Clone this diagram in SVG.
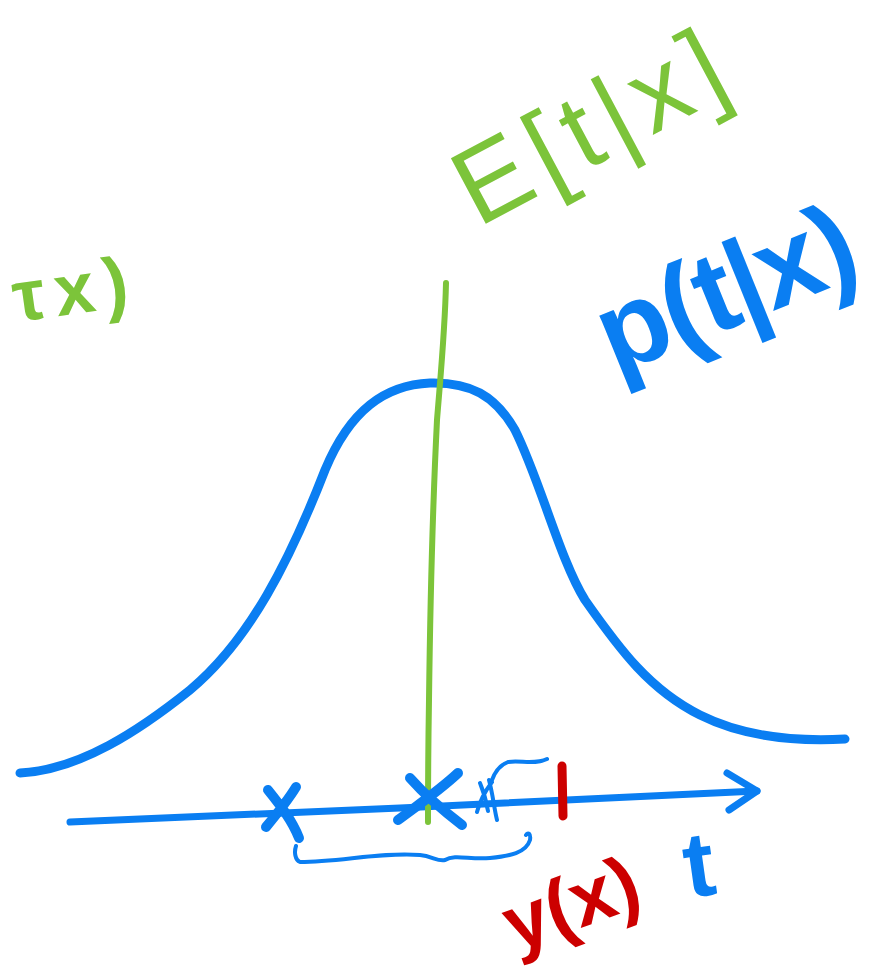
<svg xmlns="http://www.w3.org/2000/svg" width="881" height="975" viewBox="0 0 881 975">
<style>
.b{fill:none;stroke:#0a7ef2;stroke-linecap:round;stroke-linejoin:round}
.g{fill:none;stroke:#7cc43a;stroke-linecap:round;stroke-linejoin:round}
.r{fill:none;stroke:#cc0000;stroke-linecap:round;stroke-linejoin:round}
.t{font-family:"Liberation Sans",Arial,sans-serif}
</style>
<rect width="881" height="975" fill="#ffffff"/>
<g id="connectors">
<path class="b" stroke-width="9" d="M20,773 C80,770 140,730 190,690 C250,640 290,560 325,470 C350,410 385,385 430,383 C470,382 495,395 515,430 C540,480 560,560 585,600 C620,650 650,690 700,715 C740,735 790,742 845,739"/>
<path class="b" stroke-width="7" d="M70,822 L400,808 L757,791"/>
<path class="b" stroke-width="7" d="M727,773 L757,791 L729,810"/>
<path class="g" stroke-width="6" d="M446,283 C445,330 441,370 437,420 C432,520 430,620 429,700 C428,760 428,800 428,822"/>
<path class="b" stroke-width="4" d="M296,846 C294,852 295,860 300,862 C340,862 380,852 420,855 C432,856 438,862 445,860 C455,854 470,860 490,858 C510,856 526,853 530,840 C531,833 528,832 526,835"/>
<path class="r" stroke-width="9" d="M562,766 L563,816"/>
</g>
<g id="cross1">
<path class="b" stroke-width="10" d="M268,790 C280,805 292,820 299,838 M296,787 C288,800 276,815 266,827"/>
</g>
<g id="cross2">
<path class="b" stroke-width="10" d="M410,778 C425,795 445,812 462,825 M458,773 C440,790 418,805 398,820"/>
</g>
<g id="small-x">
<path class="b" stroke-width="4" d="M480,783 C485,795 487,805 488,811 M477,812 C480,800 486,790 492,782 M489,780 C493,795 494,808 497,820 M492,780 C495,772 500,765 508,762 C520,760 535,765 547,759"/>
</g>
<g id="label-E">
<text class="t" x="478" y="228" font-size="108" fill="#7cc43a" transform="rotate(-28 478 228)" textLength="290" lengthAdjust="spacing">E[t|x]</text>
</g>
<g id="label-p">
<text class="t" x="615" y="375" font-size="115" font-weight="bold" fill="#0a7ef2" transform="rotate(-22 615 375)" textLength="270" lengthAdjust="spacing">p(t|x)</text>
</g>
<g id="label-left">
<text class="t" x="16" y="322" font-size="72" font-weight="bold" fill="#7cc43a" transform="rotate(-8 16 322)" textLength="116" lengthAdjust="spacing">τx)</text>
</g>
<g id="label-y">
<text class="t" x="515" y="952" font-size="78" font-weight="bold" fill="#cc0000" transform="rotate(-20 515 952)">y(x)</text>
</g>
<g id="label-t">
<text class="t" x="688" y="898" font-size="92" font-weight="bold" fill="#0a7ef2" transform="rotate(-8 688 898)">t</text>
</g>
</svg>
